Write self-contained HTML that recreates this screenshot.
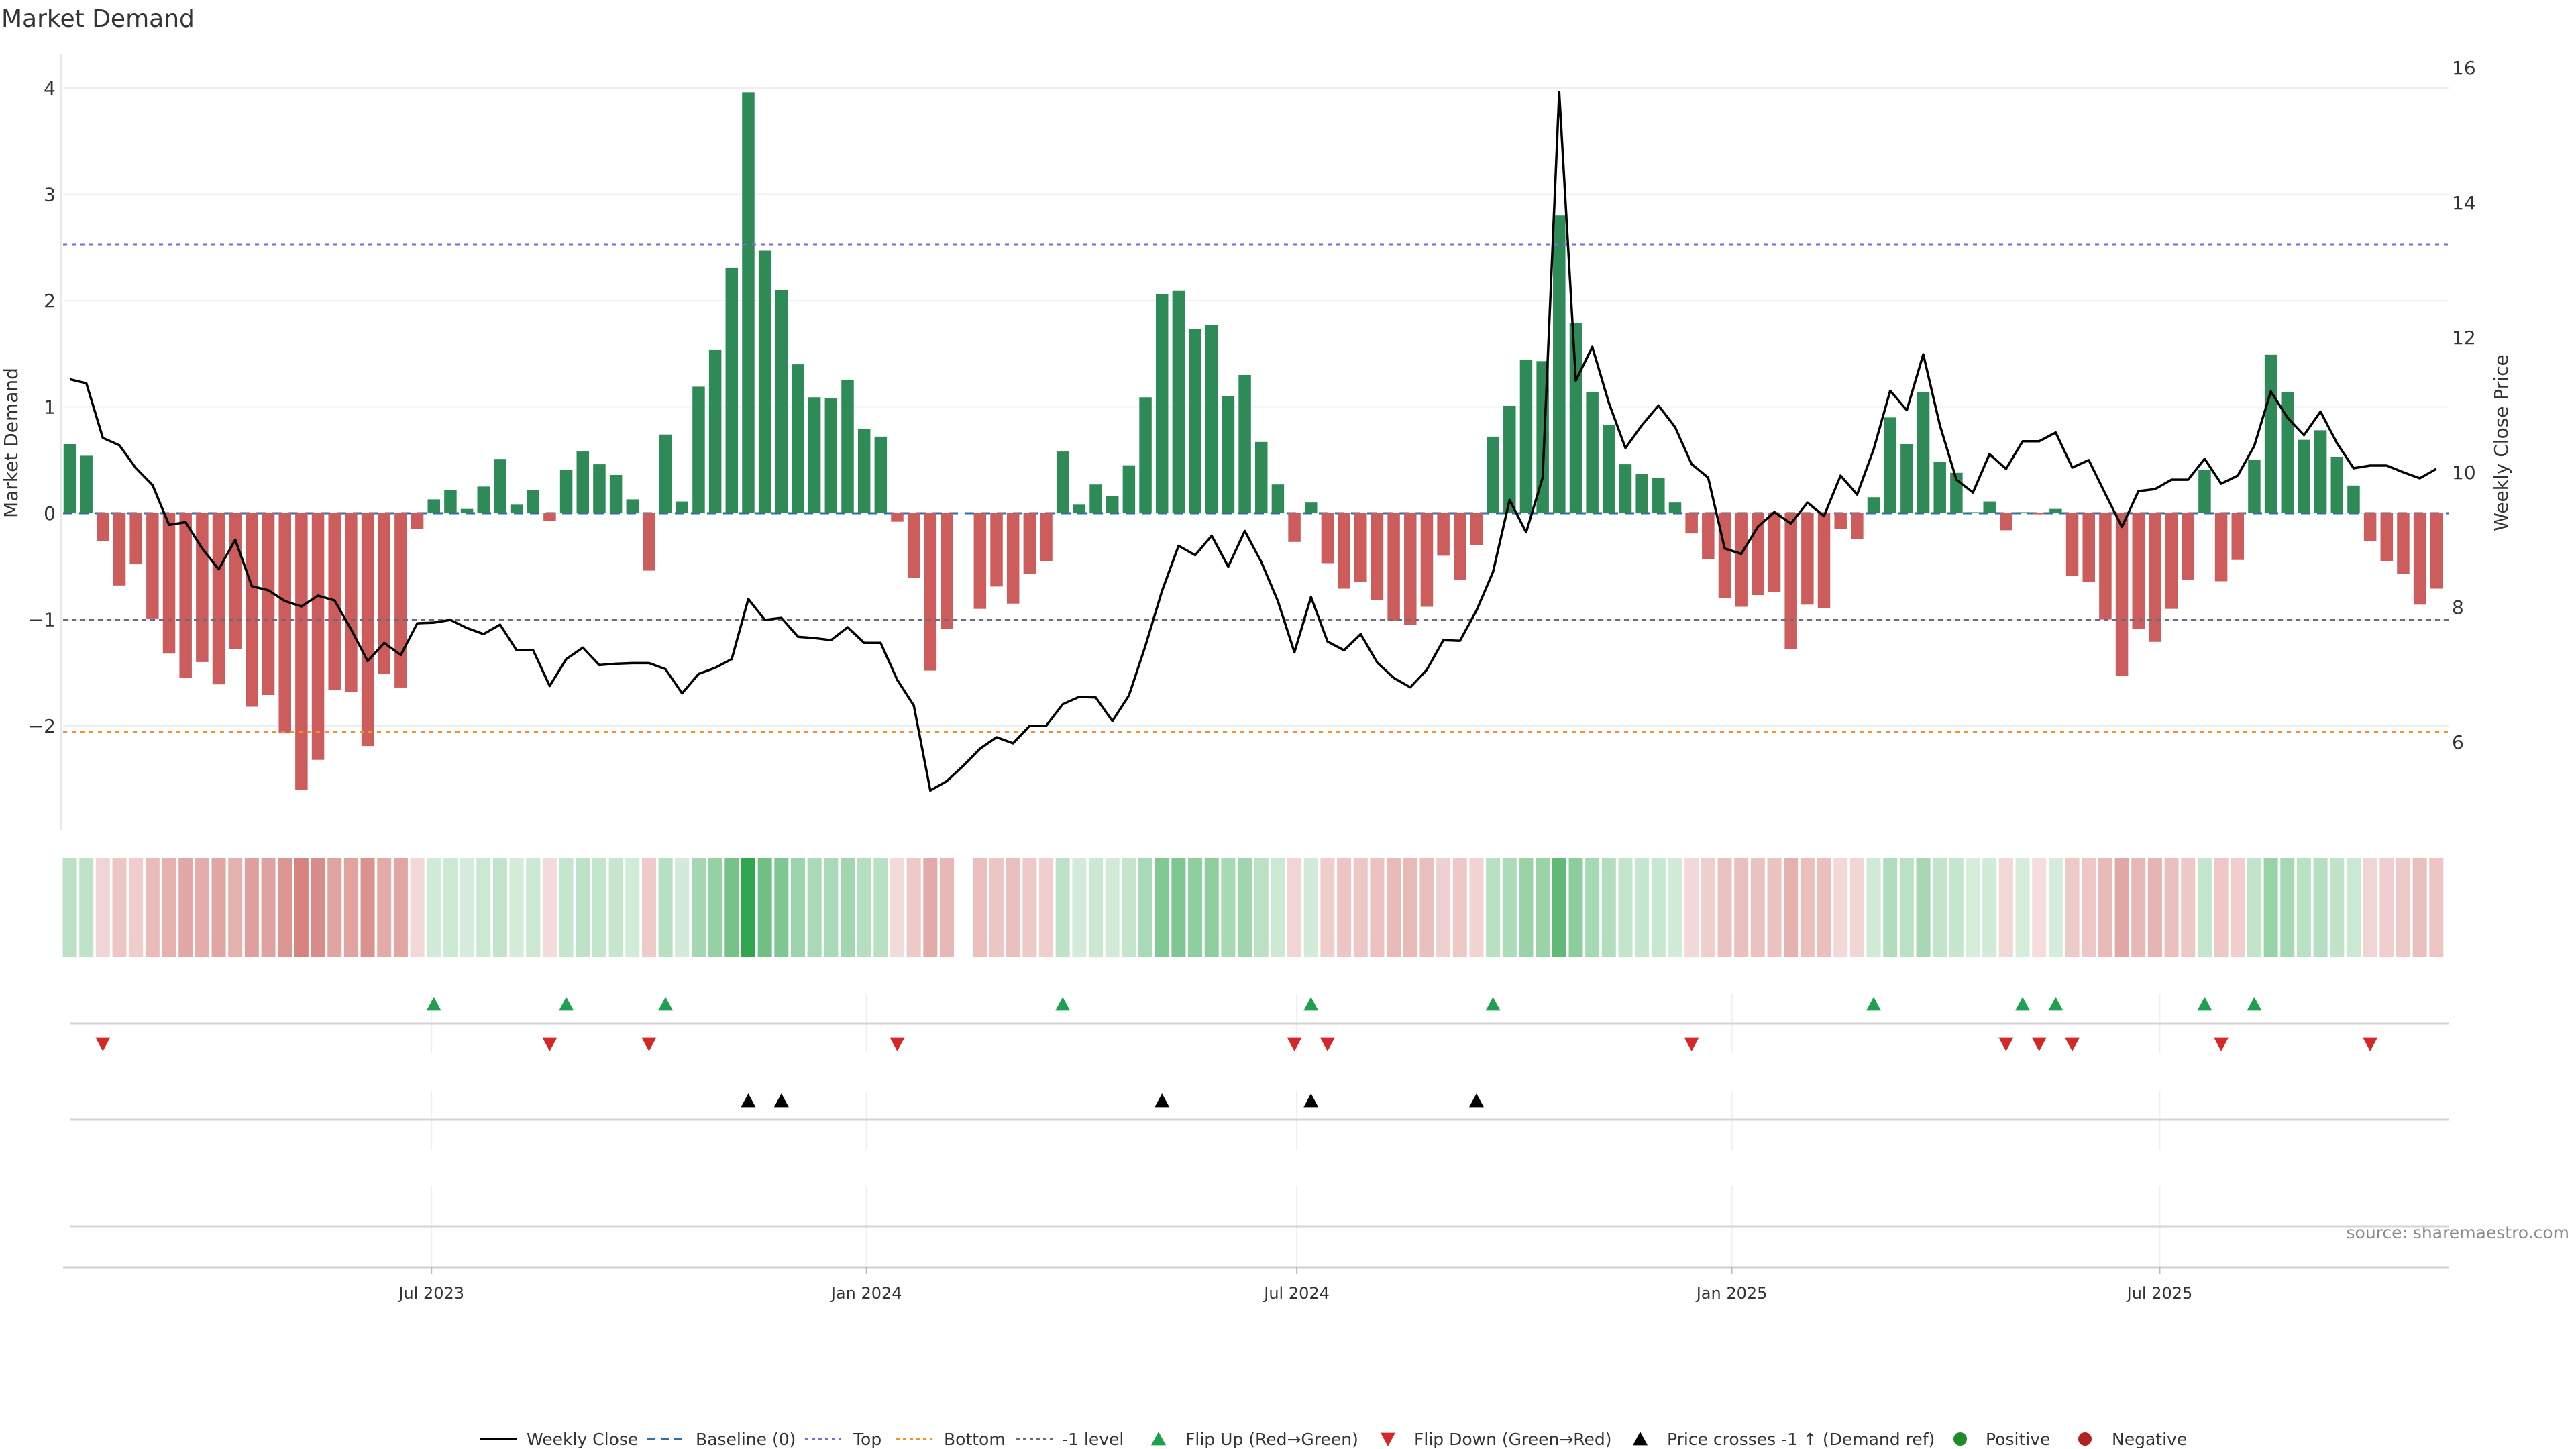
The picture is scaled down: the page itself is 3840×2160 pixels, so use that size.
<!DOCTYPE html>
<html><head><meta charset="utf-8"><style>
html,body{margin:0;padding:0;background:#fff;}
svg{display:block;font-family:"DejaVu Sans","Liberation Sans",sans-serif;}
</style></head><body>
<svg id="chart" width="3840" height="2160" viewBox="0 0 3840 2160" xmlns="http://www.w3.org/2000/svg">
<text x="2" y="40" font-size="36" fill="#333">Market Demand</text>
<text transform="translate(26,660) rotate(-90)" text-anchor="middle" font-size="28" fill="#333">Market Demand</text>
<text transform="translate(3738,660) rotate(-90)" text-anchor="middle" font-size="28" fill="#333">Weekly Close Price</text>
<text x="3830" y="1846" text-anchor="end" font-size="25" fill="#8a8a8a">source: sharemaestro.com</text>
<g id="grid"></g>
<g id="heat"></g>
<g id="bars"></g>
<g id="lines"></g>
<g id="price"></g>
<g id="marks"></g>
<g id="axes"></g>
<g id="legend"></g>
</svg>
<script>
const demand = [0.65,0.54,-0.26,-0.68,-0.48,-0.99,-1.32,-1.55,-1.40,-1.61,
-1.28,-1.82,-1.71,-2.07,-2.60,-2.32,-1.66,-1.68,-2.19,-1.51,
-1.64,-0.15,0.13,0.22,0.04,0.25,0.51,0.08,0.22,-0.07,
0.41,0.58,0.46,0.36,0.13,-0.54,0.74,0.11,1.19,1.54,
2.31,3.96,2.47,2.10,1.40,1.09,1.08,1.25,0.79,0.72,
-0.08,-0.61,-1.48,-1.09,null,-0.90,-0.69,-0.85,-0.57,-0.45,
0.58,0.08,0.27,0.16,0.45,1.09,2.06,2.09,1.73,1.77,
1.10,1.30,0.67,0.27,-0.27,0.10,-0.47,-0.71,-0.65,-0.82,
-1.01,-1.05,-0.88,-0.40,-0.63,-0.30,0.72,1.01,1.44,1.43,
2.80,1.79,1.14,0.83,0.46,0.37,0.33,0.10,-0.19,-0.43,
-0.80,-0.88,-0.77,-0.74,-1.28,-0.86,-0.89,-0.15,-0.24,0.15,
0.90,0.65,1.14,0.48,0.38,0.01,0.11,-0.16,0.01,-0.01,
0.04,-0.59,-0.65,-1.00,-1.53,-1.09,-1.21,-0.90,-0.63,0.41,
-0.64,-0.44,0.50,1.49,1.14,0.69,0.78,0.53,0.26,-0.26,
-0.45,-0.57,-0.86,-0.71];
const price = [11.38,11.32,10.51,10.40,10.06,9.81,9.22,9.26,8.87,8.56,
9.00,8.31,8.25,8.09,8.01,8.17,8.10,7.67,7.20,7.47,
7.29,7.76,7.77,7.81,7.69,7.60,7.74,7.36,7.36,6.83,
7.23,7.40,7.14,7.16,7.17,7.17,7.08,6.72,7.01,7.10,
7.23,8.12,7.81,7.84,7.56,7.54,7.51,7.70,7.47,7.47,
6.92,6.54,5.28,5.42,5.65,5.90,6.07,5.98,6.24,6.24,
6.56,6.67,6.66,6.31,6.69,7.43,8.24,8.91,8.77,9.06,
8.60,9.13,8.67,8.09,7.33,8.15,7.49,7.36,7.60,7.18,
6.95,6.81,7.07,7.51,7.50,7.95,8.52,9.59,9.11,9.92,
15.64,11.36,11.86,11.03,10.36,10.70,10.99,10.67,10.12,9.92,
8.87,8.79,9.19,9.41,9.24,9.55,9.35,9.95,9.67,10.34,
11.21,10.92,11.75,10.70,9.89,9.70,10.27,10.05,10.46,10.46,
10.59,10.07,10.18,9.68,9.19,9.72,9.75,9.89,9.89,10.20,
9.83,9.95,10.39,11.20,10.81,10.55,10.90,10.43,10.06,10.10,
10.10,10.00,9.91,10.05];
const priceCrossIdx = [41,43,66,75,85];
const startDate = "2023-01-29";
const xTickLabels = ["Jul 2023","Jan 2024","Jul 2024","Jan 2025","Jul 2025"];
const xTickDates = ["2023-07-01","2024-01-01","2024-07-01","2025-01-01","2025-07-01"];
const yTicks = [4,3,2,1,0,-1,-2];
const y2Ticks = [16,14,12,10,8,6];
const topLevel = 2.53, bottomLevel = -2.06, minusLevel = -1;

const NS="http://www.w3.org/2000/svg";
function mk(tag,attrs,parent){const e=document.createElementNS(NS,tag);for(const k in attrs)e.setAttribute(k,attrs[k]);parent.appendChild(e);return e;}
const X0=104, STEP=24.67, L=94, R=3650;
const t0=Date.parse(startDate);
function xIdx(i){return X0+i*STEP;}
function xDate(s){return X0+(Date.parse(s)-t0)/86400000*STEP/7;}
function yV(v){return 765-v*158.5;}
function yP(p){return 1106-(p-6)*100.5;}

const grid=document.getElementById('grid');
yTicks.forEach(t=>{const l=mk('line',{x1:L,x2:R,y1:yV(t),y2:yV(t),stroke:'#eeeff2','stroke-width':2},grid);

});
xTickDates.forEach(d=>{const x=xDate(d);
[[1481,1570],[1626,1714],[1768,1889]].forEach(r=>{const l=mk('line',{x1:x,x2:x,y1:r[0],y2:r[1],stroke:'#eeeff2','stroke-width':2},grid);

});});
const ax=document.getElementById('axes');
let a=mk('line',{x1:91,x2:91,y1:80,y2:1237,stroke:'#e8e8ec','stroke-width':2},ax);


[1526,1669,1828].forEach(y=>{const l=mk('line',{x1:105,x2:R,y1:y,y2:y,stroke:'#d4d4d4','stroke-width':3},ax);

});
a=mk('line',{x1:94,x2:R,y1:1889,y2:1889,stroke:'#cfcfcf','stroke-width':3},ax);


yTicks.forEach(t=>{const e=mk('text',{x:83,y:yV(t)+10,'text-anchor':'end','font-size':28,fill:'#333'},ax);e.textContent=(t<0?'\u2212'+(-t):String(t));

});
y2Ticks.forEach(t=>{const e=mk('text',{x:3655,y:yP(t)+10,'font-size':28,fill:'#333'},ax);e.textContent=String(t);

});
xTickDates.forEach((d,k)=>{const x=xDate(d);
const tk=mk('line',{x1:x,x2:x,y1:1889,y2:1899,stroke:'#bbb','stroke-width':2},ax);


const e=mk('text',{x:x,y:1936,'text-anchor':'middle','font-size':24,fill:'#333'},ax);e.textContent=xTickLabels[k];

});

const heat=document.getElementById('heat');
const vmaxP=Math.max(...demand.filter(v=>v!==null)), vmaxN=-Math.min(...demand.filter(v=>v!==null));
demand.forEach((v,i)=>{if(v===null)return;
let fill,op;
if(v>=0){fill='rgb(50,165,80)';op=0.2+0.8*v/vmaxP;}else{fill='rgb(200,90,85)';op=0.2+0.55*(-v)/vmaxN;}
const r=mk('rect',{x:xIdx(i)-10.5,y:1279,width:21,height:148,fill:fill,'fill-opacity':op.toFixed(3)},heat);

});

const lines=document.getElementById('lines');
function hl(v,color,dash,name,w){const l=mk('line',{x1:L,x2:R,y1:yV(v),y2:yV(v),stroke:color,'stroke-width':w||3,'stroke-dasharray':dash},lines);

}
const bars=document.getElementById('bars');
const bl=mk('line',{x1:L,x2:R,y1:yV(0),y2:yV(0),stroke:'#2f6fa8','stroke-width':3,'stroke-dasharray':'14 10'},bars);


demand.forEach((v,i)=>{if(v===null)return;
const y1=yV(Math.max(v,0)),y2=yV(Math.min(v,0));
const r=mk('rect',{x:xIdx(i)-9.25,y:y1,width:18.5,height:Math.max(y2-y1,0.5),fill:v>=0?'#2e8b57':'#cd5c5c'},bars);

});
hl(topLevel,'#7b68d9','6 7','top-level-line');
hl(bottomLevel,'#f0932b','6 7','bottom-level-line');
hl(minusLevel,'#6b6b7b','7 6','minus-one-level-line');

const pg=document.getElementById('price');
const pts=price.map((p,i)=>xIdx(i).toFixed(1)+','+yP(p).toFixed(1)).join(' ');
const pl=mk('polyline',{points:pts,fill:'none',stroke:'#000','stroke-width':3.5,'stroke-linejoin':'round'},pg);



const mg=document.getElementById('marks');
function tri(x,y,up,color,name){const s=11;
const d=up?`M${x},${y-s} L${x+s},${y+s*0.85} L${x-s},${y+s*0.85}Z`:`M${x},${y+s} L${x+s},${y-s*0.85} L${x-s},${y-s*0.85}Z`;
const p=mk('path',{d:d,fill:color},mg);

}
let prev=null;
demand.forEach((v,i)=>{if(v===null)return;
if(prev!==null){
if(prev<0&&v>0)tri(xIdx(i),1497,true,'#1fa050','flip-up-marker');
if(prev>0&&v<0)tri(xIdx(i),1556,false,'#d62728','flip-down-marker');}
prev=v;});
priceCrossIdx.forEach(i=>tri(xIdx(i),1641,true,'#000','price-cross-marker'));

const lg=document.getElementById('legend');
const LY=2145;
function lt(x,s){const e=mk('text',{x:x,y:LY+9,'font-size':25,fill:'#333'},lg);e.textContent=s;

}
function ll(x,color,dash,w){const l=mk('line',{x1:x,x2:x+54,y1:LY,y2:LY,stroke:color,'stroke-width':w,'stroke-dasharray':dash},lg);

}
ll(716,'#000','none',4);lt(785,'Weekly Close');
ll(965,'#2f6fa8','12 8',3);lt(1037,'Baseline (0)');
ll(1200,'#7b68d9','5 5',3);lt(1272,'Top');
ll(1336,'#f0932b','5 5',3);lt(1407,'Bottom');
ll(1515,'#6b6b7b','5 5',3);lt(1583,'-1 level');
tri(1727,LY,true,'#1fa050','legend-flip-up');lt(1767,'Flip Up (Red\u2192Green)');
tri(2069,LY,false,'#d62728','legend-flip-down');lt(2108,'Flip Down (Green\u2192Red)');
tri(2445,LY,true,'#000','legend-price-cross');lt(2485,'Price crosses -1 \u2191 (Demand ref)');
let c=mk('circle',{cx:2922,cy:LY,r:10,fill:'#1f8a2a'},lg);


lt(2960,'Positive');
c=mk('circle',{cx:3108,cy:LY,r:10,fill:'#b22222'},lg);


lt(3148,'Negative');
</script>
</body></html>
